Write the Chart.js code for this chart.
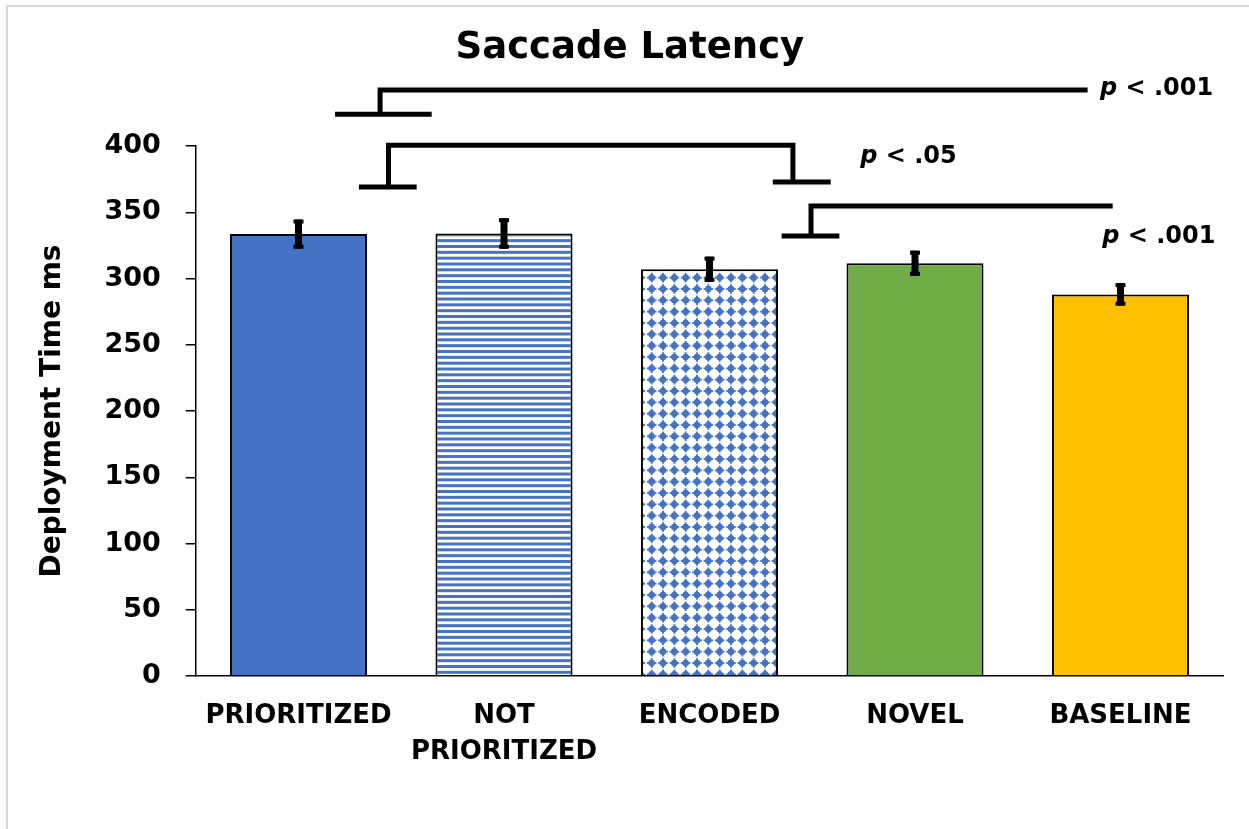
<!DOCTYPE html>
<html><head><meta charset="utf-8">
<script src="https://cdn.jsdelivr.net/npm/chart.js@4.4.0/dist/chart.umd.min.js"></script>
<style>html,body{margin:0;padding:0;background:#fff;}#wrap{width:1249px;height:829px;}</style>
</head><body><div id="wrap"><canvas id="c" width="1249" height="829"></canvas></div>
<script>
// ---- data ----
const categories = ['PRIORITIZED', ['NOT', 'PRIORITIZED'], 'ENCODED', 'NOVEL', 'BASELINE'];
const latencyMs = [333.5, 334, 307, 311.5, 288];
const errorMs = [11, 11.5, 9.5, 9.5, 8.5];
const yTickValues = [0, 50, 100, 150, 200, 250, 300, 350, 400];
const pLabels = ['.001', '.05', '.001'];

// ---- bracket annotations (category index / value units) ----
const bracketPaths = [
  [[0.397, 423.9], [0.397, 442.3], [3.84, 442.3]],
  [[0.438, 369], [0.438, 400.5], [2.406, 400.5], [2.406, 372.8]],
  [[2.494, 332], [2.494, 354.7], [3.962, 354.7]]
];
const bracketBases = [
  [0.178, 0.648, 423.9],
  [0.294, 0.575, 369],
  [2.308, 2.590, 372.8],
  [2.351, 2.632, 332]
];
const pLabelPos = [[3.90, 443.5], [2.733, 391.5], [3.911, 331.5]];

const FONT = 'DejaVu Sans';
const BLUE = '#4472C4';

function stripePattern() {
  const c = document.createElement('canvas');
  c.width = 35; c.height = 35;
  const g = c.getContext('2d');
  g.fillStyle = '#fff'; g.fillRect(0, 0, 35, 35);
  g.fillStyle = BLUE;
  const p = 35 / 6;
  for (let k = 0; k < 6; k++) g.fillRect(0, k * p, 35, 3);
  return g.createPattern(c, 'repeat');
}
function dotPattern() {
  const c = document.createElement('canvas');
  c.width = 34; c.height = 34;
  const g = c.getContext('2d');
  g.fillStyle = '#fff'; g.fillRect(0, 0, 34, 34);
  g.fillStyle = BLUE;
  const p = 34 / 3;
  for (let i = 0; i < 3; i++) for (let j = 0; j < 3; j++) {
    const cx = p / 2 + i * p, cy = p / 2 + j * p;
    g.beginPath(); g.arc(cx, cy, 3.3, 0, Math.PI * 2); g.fill();
    g.fillRect(cx - 4.8, cy - 0.9, 9.6, 1.8);
    g.fillRect(cx - 0.9, cy - 4.8, 1.8, 9.6);
  }
  return g.createPattern(c, 'repeat');
}

const canvas = document.getElementById('c');
const fills = [BLUE, stripePattern(), dotPattern(), '#70AD47', '#FFC000'];

const framePlugin = {
  id: 'frame',
  beforeDraw(chart) {
    const ctx = chart.ctx;
    ctx.save();
    ctx.fillStyle = '#fff';
    ctx.fillRect(0, 0, chart.width, chart.height);
    ctx.strokeStyle = '#d9d9d9';
    ctx.lineWidth = 2;
    ctx.beginPath();
    ctx.moveTo(7, chart.height); ctx.lineTo(7, 6); ctx.lineTo(chart.width, 6);
    ctx.stroke();
    ctx.restore();
  }
};

const errorPlugin = {
  id: 'errs',
  afterDatasetsDraw(chart) {
    const ctx = chart.ctx, y = chart.scales.y;
    const meta = chart.getDatasetMeta(0);
    ctx.save();
    ctx.fillStyle = '#000';
    meta.data.forEach((bar, i) => {
      const t = y.getPixelForValue(latencyMs[i] + errorMs[i]);
      const b = y.getPixelForValue(latencyMs[i] - errorMs[i]);
      ctx.fillRect(bar.x - 3.5, t, 7, b - t);
      ctx.fillRect(bar.x - 5, t, 10, 4);
      ctx.fillRect(bar.x - 5, b - 4, 10, 4);
    });
    ctx.restore();
  }
};

const bracketPlugin = {
  id: 'brackets',
  afterDraw(chart) {
    const ctx = chart.ctx, xs = chart.scales.x, ys = chart.scales.y;
    const px = v => xs.getPixelForValue(v), py = v => ys.getPixelForValue(v);
    ctx.save();
    ctx.strokeStyle = '#000';
    ctx.lineWidth = 5;
    ctx.lineJoin = 'miter';
    ctx.lineCap = 'butt';
    bracketPaths.forEach(path => {
      ctx.beginPath();
      path.forEach(([a, b], k) => k ? ctx.lineTo(px(a), py(b)) : ctx.moveTo(px(a), py(b)));
      ctx.stroke();
    });
    bracketBases.forEach(([a, b, v]) => {
      ctx.beginPath(); ctx.moveTo(px(a), py(v)); ctx.lineTo(px(b), py(v)); ctx.stroke();
    });
    ctx.fillStyle = '#000';
    ctx.textBaseline = 'middle';
    ctx.textAlign = 'left';
    pLabelPos.forEach(([a, v], i) => {
      let x = px(a);
      const y = py(v);
      ctx.font = 'italic bold 24px "' + FONT + '"';
      ctx.fillText('p', x, y);
      x += ctx.measureText('p').width;
      ctx.font = 'bold 24px "' + FONT + '"';
      ctx.fillText(' < ' + pLabels[i], x, y);
    });
    ctx.restore();
  }
};

new Chart(canvas, {
  type: 'bar',
  data: {
    labels: categories,
    datasets: [{
      data: latencyMs,
      backgroundColor: fills,
      borderColor: '#000',
      borderWidth: 2,
      categoryPercentage: 1,
      barPercentage: 0.667
    }]
  },
  options: {
    responsive: false,
    animation: false,
    devicePixelRatio: 1,
    layout: { padding: { left: 36.5, right: 25.75, top: 0, bottom: 0 } },
    plugins: {
      legend: { display: false },
      tooltip: { enabled: false },
      title: {
        display: true,
        text: 'Saccade Latency',
        color: '#000',
        font: { family: FONT, size: 37, weight: 'bold', lineHeight: 1.2 },
        padding: { top: 26.3, bottom: 75.3 }
      }
    },
    scales: {
      x: {
        grid: { display: false, drawTicks: false },
        border: { display: true, color: '#000', width: 1.5 },
        ticks: {
          color: '#000',
          padding: 22,
          maxRotation: 0,
          autoSkip: false,
          font: { family: FONT, size: 26, weight: 'bold', lineHeight: 1.4 }
        },
        afterFit: s => { s.height = 153; }
      },
      y: {
        min: 0, max: 400,
        afterBuildTicks: s => { s.ticks = yTickValues.map(v => ({ value: v })); },
        grid: { display: true, drawOnChartArea: false, drawTicks: true, tickLength: 10, color: '#000', lineWidth: 1.5 },
        border: { display: true, color: '#000', width: 1.5 },
        ticks: {
          color: '#000',
          padding: 25,
          font: { family: FONT, size: 27, weight: 'bold' }
        },
        title: {
          display: true,
          text: 'Deployment Time ms',
          color: '#000',
          font: { family: FONT, size: 28, weight: 'bold', lineHeight: 1.1 },
          padding: { top: 0.4, bottom: 0 }
        },
        afterFit: s => { s.width = 159.25; }
      }
    }
  },
  plugins: [framePlugin, errorPlugin, bracketPlugin]
});
</script>
</body></html>
